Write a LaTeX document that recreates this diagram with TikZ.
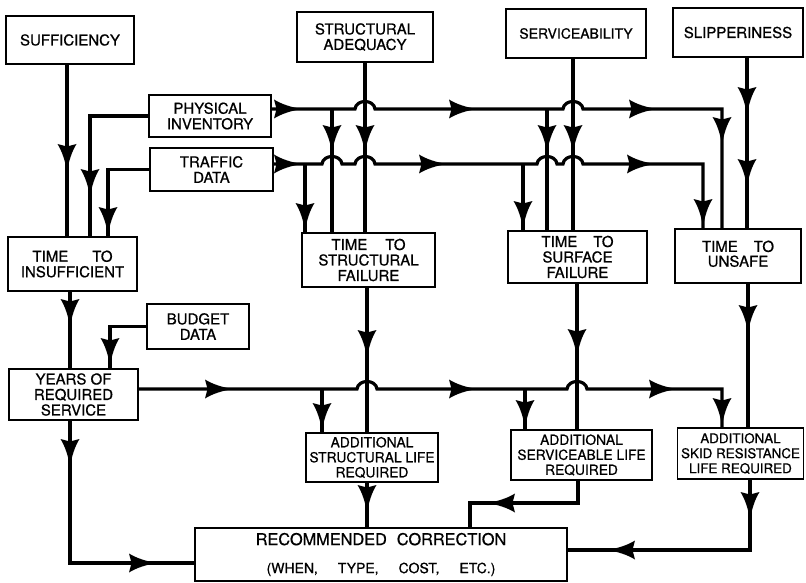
\documentclass[tikz,border=0pt]{standalone}
\usepackage{fontspec}
\setmainfont{TeX Gyre Heros}[FakeBold=0.7]
\begin{document}
\begin{tikzpicture}[x=1pt,y=-1pt,
  box/.style={draw, line width=1.8pt, inner sep=0pt, align=center, font=\fontsize{15}{15.5}\selectfont},
  small/.style={font=\fontsize{13.8}{15}\selectfont},
  wh/.style 2 args={minimum width=#1pt, minimum height=#2pt},
  conn/.style={line width=3.2pt},
  ah/.pic={\fill (0,0) .. controls (-10,1.6) and (-20,4.5) .. (-28,9.5) -- (-25.5,0) -- (-28,-9.5) .. controls (-20,-4.5) and (-10,-1.6) .. (0,0) -- cycle;}
]
\useasboundingbox (0,0) rectangle (806,583);

% boxes
\node[box, wh={128}{48}] (suff) at (70,40) {SUFFICIENCY};
\node[box, wh={136}{50}] (stadq) at (365,37) {STRUCTURAL\\ADEQUACY};
\node[box, wh={140}{49}, font=\fontsize{14}{15}\selectfont] (serv) at (576,33.5) {SERVICEABILITY};
\node[box, wh={130}{49}] (slip) at (738,32.5) {SLIPPERINESS};
\node[box, wh={122}{42}] (phys) at (210,116) {PHYSICAL\\INVENTORY};
\node[box, wh={123}{43}] (traf) at (211.5,169.5) {TRAFFIC\\DATA};
\node[box, wh={129}{54}] (insuff) at (72.5,264) {TIME\hspace{24pt}TO\\INSUFFICIENT};
\node[box, wh={102}{45}] (budget) at (198,326.5) {BUDGET\\DATA};
\node[box, wh={129}{51}] (years) at (73.5,394.5) {YEARS OF\\REQUIRED\\SERVICE};
\node[box, wh={133}{54}] (stfail) at (368.5,260) {TIME\hspace{18pt}TO\\STRUCTURAL\\FAILURE};
\node[box, wh={139}{52}] (sufail) at (577.5,257) {TIME\hspace{16pt}TO\\SURFACE\\FAILURE};
\node[box, wh={126}{54}] (unsafe) at (738,256) {\raisebox{6pt}{\begin{tabular}{@{}c@{}}TIME\hspace{16pt}TO\\[-1pt]UNSAFE\end{tabular}}};
\node[box, small, wh={132}{49}] (addst) at (372,457.5) {ADDITIONAL\\STRUCTURAL LIFE\\REQUIRED};
\node[box, small, wh={141}{50}] (addsv) at (581.5,455) {ADDITIONAL\\SERVICEABLE LIFE\\REQUIRED};
\node[box, small, wh={126}{51}, font=\fontsize{13.4}{15}\selectfont] (addsk) at (740.5,453.5) {ADDITIONAL\\SKID RESISTANCE\\LIFE REQUIRED};
\node[box, wh={372}{53}, font=\fontsize{16.3}{20}\selectfont] (rec) at (381,554.5) {RECOMMENDED\hspace{10pt}CORRECTION\\[8pt]{\fontsize{14}{16}\selectfont(WHEN,\hspace{20pt}TYPE,\hspace{20pt}COST,\hspace{20pt}ETC.)}};

% junctions
\coordinate (jp1) at (332,109);
\coordinate (jp2) at (547,109);
\coordinate (jt1) at (305,164);
\coordinate (jt2) at (523,164);
\coordinate (jy1) at (322,389);
\coordinate (jy2) at (525,389);

% left column
\draw[conn] (suff.south -| 67,0) -- (67,0 |- insuff.north);
\draw[conn] (phys.west) -| (90,0 |- insuff.north);
\draw[conn] (traf.west) -| (108,0 |- insuff.north);
\draw[conn] (budget.west) -| (110,0 |- years.north);
\draw[conn] (insuff.south -| 70,0) -- (70,0 |- years.north);
\draw[conn] (years.south -| 70,0) |- (rec.west |- 0,563);

% buses
\draw[conn] (phys.east |- 0,109) -- (355,109) .. controls (356,99) and (374,99) .. (375,109) -- (563,109) .. controls (564,99) and (582,99) .. (583,109) -| (722,0 |- unsafe.north);
\draw[conn] (traf.east |- 0,164) -- (322,164) .. controls (323,154) and (341,154) .. (342,164) -- (355,164) .. controls (356,154) and (374,154) .. (375,164) -- (537,164) .. controls (538,154) and (556,154) .. (557,164) -- (563,164) .. controls (564,154) and (582,154) .. (583,164) -| (703,0 |- unsafe.north);
\draw[conn] (years.east |- 0,389) -- (357,389) .. controls (358,379) and (376,379) .. (377,389) -- (567,389) .. controls (568,379) and (586,379) .. (587,389) -| (722,0 |- addsk.north);

% verticals
\draw[conn] (jp1) -- (jp1 |- stfail.north);
\draw[conn] (stadq.south) -- (stadq.south |- stfail.north);
\draw[conn] (jt1) -- (jt1 |- stfail.north);
\draw[conn] (stfail.south -| 367,0) -- (367,0 |- addst.north);
\draw[conn] (jy1) -- (jy1 |- addst.north);
\draw[conn] (addst.south -| 367,0) -- (367,0 |- rec.north);
\draw[conn] (serv.south -| 573,0) -- (573,0 |- sufail.north);
\draw[conn] (jp2) -- (jp2 |- sufail.north);
\draw[conn] (jt2) -- (jt2 |- sufail.north);
\draw[conn] (sufail.south -| 577,0) -- (577,0 |- addsv.north);
\draw[conn] (jy2) -- (jy2 |- addsv.north);
\draw[conn] (addsv.south -| 578,0) -- (578,503) -| (470,0 |- rec.north);
\draw[conn] (slip.south -| 747,0) -- (747,0 |- unsafe.north);
\draw[conn] (unsafe.south -| 748,0) -- (748,0 |- addsk.north);
\draw[conn] (addsk.south -| 750,0) |- (rec.east |- 0,550);

% arrowheads
\foreach \p in {(67,172),(90,197),(108,235),(332,153),(365,153),(305,231),(547,153),(573,153),(523,229),(722,145),(703,227),(747,115),(747,187),(70,327),(110,366),(322,431),(367,358),(525,428),(577,357),(722,426),(748,333),(70,467),(367,513),(750,520)}
  \pic[rotate=-90] at \p {ah};
\foreach \p in {(302,109),(302,164),(477,109),(447,164),(657,109),(655,164),(233,389),(477,389),(677,389),(157,563)}
  \pic at \p {ah};
\foreach \p in {(487,503),(607,550)}
  \pic[rotate=180] at \p {ah};
\end{tikzpicture}
\end{document}
